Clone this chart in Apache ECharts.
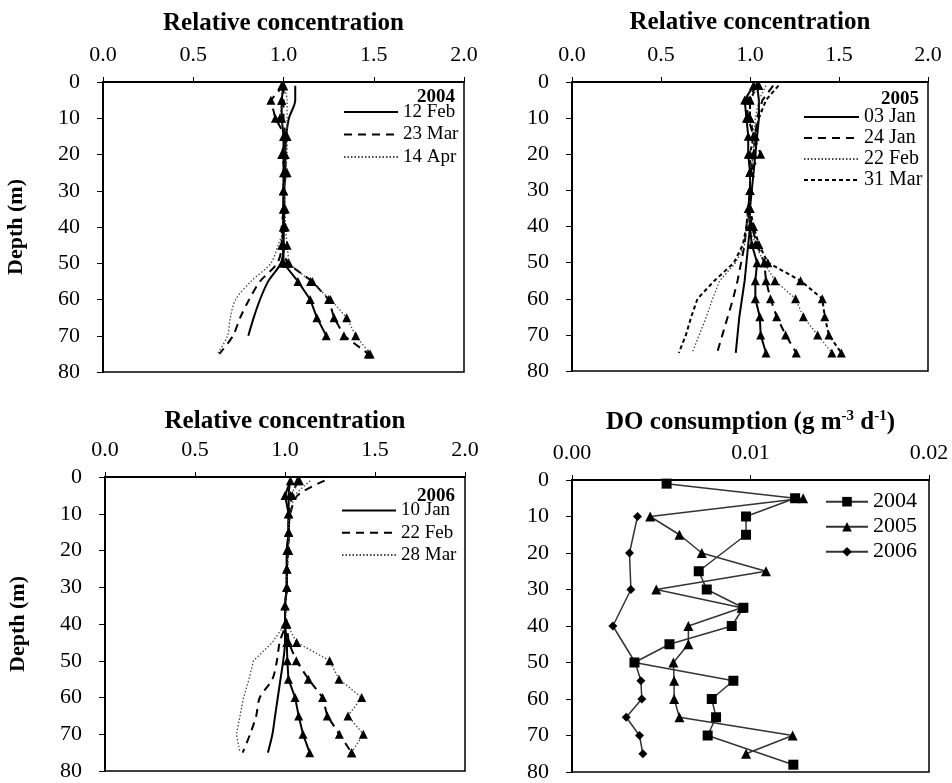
<!DOCTYPE html>
<html>
<head>
<meta charset="utf-8">
<script src="https://cdn.jsdelivr.net/npm/echarts@6/dist/echarts.min.js"></script>
<style>
html, body { margin: 0; padding: 0; background: #fff; }
#main { width: 952px; height: 783px; }
</style>
</head>
<body>
<div id="main"></div>
<script>
// depth of each sample (m)
var depths = [1, 5, 10, 15, 20, 25, 30, 35, 40, 45, 50, 55, 60, 65, 70, 75];

// 2004 relative concentration (plain line / line with triangles)
var feb12_2004 = [1.065, 1.065, 1.03, 1.015, 1.01, 1.01, 1.005, 1.005, 1.0, 1.0, 0.985, 0.915, 0.87, 0.835, 0.805];
var feb12_2004T = [1.0, 0.99, 0.99, 1.0, 1.0, 1.0, 1.0, 1.0, 1.0, 1.0, 1.0, 1.08, 1.148, 1.185, 1.237];
var mar23_2004 = [1.0, 1.0, 1.0, 1.01, 1.01, 1.0, 1.0, 1.0, 0.99, 0.99, 0.965, 0.87, 0.81, 0.76, 0.72, 0.645];
var mar23_2004T = [1.0, 0.93, 0.955, 1.01, 0.99, 1.01, 1.0, 1.0, 1.0, 0.99, 1.02, 1.16, 1.25, 1.28, 1.335, 1.47];
var apr14_2004 = [1.0, 1.02, 1.02, 1.02, 1.02, 1.01, 1.0, 1.0, 1.0, 0.97, 0.93, 0.82, 0.735, 0.705, 0.69, 0.635];
var apr14_2004T = [0.99, 0.99, 0.98, 1.02, 1.01, 1.02, 1.0, 1.01, 1.01, 1.02, 1.03, 1.15, 1.26, 1.35, 1.40, 1.48];

// 2005
var jan03_2005 = [1.04, 1.05, 1.05, 1.04, 1.03, 1.02, 1.01, 1.0, 1.0, 0.99, 0.98, 0.97, 0.955, 0.94, 0.93, 0.92];
var jan03_2005T = [1.02, 0.97, 0.98, 0.99, 0.99, 1.0, 1.0, 0.99, 1.0, 1.01, 1.04, 1.03, 1.03, 1.055, 1.06, 1.09];
var jan24_2005 = [1.13, 1.07, 1.04, 1.03, 1.03, 1.0, 1.0, 0.99, 0.98, 0.97, 0.95, 0.93, 0.905, 0.875, 0.845, 0.815];
var jan24_2005T = [1.04, 0.98, 0.99, 1.02, 1.06, 1.0, 1.0, 1.0, 1.01, 1.04, 1.08, 1.09, 1.115, 1.15, 1.20, 1.26];
var feb22_2005 = [1.09, 1.05, 1.03, 1.02, 1.02, 1.0, 1.0, 0.99, 0.98, 0.97, 0.92, 0.83, 0.79, 0.755, 0.715, 0.675];
var feb22_2005T = [1.05, 1.0, 1.0, 1.03, 1.02, 1.0, 1.0, 1.0, 1.0, 1.03, 1.08, 1.14, 1.256, 1.30, 1.38, 1.46];
var mar31_2005 = [1.16, 1.09, 1.05, 1.03, 1.02, 1.0, 1.0, 0.99, 0.98, 0.96, 0.91, 0.80, 0.705, 0.67, 0.64, 0.60];
var mar31_2005T = [1.04, 1.0, 1.0, 1.02, 1.0, 1.0, 1.0, 1.0, 1.02, 1.05, 1.10, 1.284, 1.406, 1.42, 1.443, 1.513];

// 2006
var jan10_2006 = [1.03, 1.02, 1.02, 1.02, 1.01, 1.01, 1.01, 1.0, 1.0, 1.0, 0.99, 0.975, 0.96, 0.945, 0.93, 0.905];
var jan10_2006T = [1.03, 1.0, 1.02, 1.02, 1.01, 1.01, 1.01, 1.0, 1.0, 1.01, 1.013, 1.019, 1.056, 1.076, 1.10, 1.137];
var feb22_2006 = [1.22, 1.07, 1.03, 1.02, 1.02, 1.01, 1.01, 1.0, 1.0, 0.97, 0.955, 0.93, 0.86, 0.84, 0.806, 0.765];
var feb22_2006T = [1.07, 1.04, 1.02, 1.02, 1.02, 1.01, 1.01, 1.0, 1.01, 1.02, 1.063, 1.13, 1.209, 1.235, 1.302, 1.37];
var mar28_2006 = [1.14, 1.05, 1.03, 1.02, 1.02, 1.01, 1.01, 1.0, 1.0, 0.93, 0.825, 0.80, 0.77, 0.75, 0.73, 0.75];
var mar28_2006T = [1.08, 1.03, 1.02, 1.02, 1.02, 1.01, 1.01, 1.0, 1.01, 1.065, 1.248, 1.30, 1.426, 1.35, 1.435, 1.37];

// DO consumption (g m-3 d-1)
var doDepth2004 = [1, 5, 10, 15, 25, 30, 35, 40, 45, 50, 55, 60, 65, 70, 78];
var do2004 = [0.0053, 0.0125, 0.00975, 0.00975, 0.0071, 0.00755, 0.0096, 0.00895, 0.00546, 0.0035, 0.00904, 0.00783, 0.00807, 0.0076, 0.0124];
var doDepth2005 = [5, 10, 15, 20, 25, 30, 35, 40, 45, 50, 55, 60, 65, 70, 75];
var do2005 = [0.01295, 0.00438, 0.00602, 0.00727, 0.01087, 0.00472, 0.0095, 0.00652, 0.00652, 0.00568, 0.00572, 0.00572, 0.00602, 0.01236, 0.00975];
var doDepth2006 = [10, 20, 30, 40, 50, 55, 60, 65, 70, 75];
var do2006 = [0.00367, 0.00322, 0.0033, 0.00229, 0.00354, 0.00386, 0.00391, 0.00304, 0.00378, 0.00397];

var FONT = 'Liberation Serif';
var SOLID = { type: 'solid', width: 2, color: '#000' };
var DASH = { type: [8, 6], width: 2, color: '#000' };
var DOT = { type: [1.5, 2], width: 1.3, color: '#444' };
var SHORTDASH = { type: [4, 3], width: 2, color: '#000' };

function pairs(vals, ds) {
    return vals.map(function (v, i) { return [v, ds[i]]; });
}

function profile(name, idx, vals, style, tri, smooth) {
    return {
        name: name,
        type: 'line',
        xAxisIndex: idx,
        yAxisIndex: idx,
        data: pairs(vals, depths),
        symbol: tri ? 'triangle' : 'none',
        symbolSize: 9,
        showSymbol: tri,
        smooth: smooth ? 0.3 : false,
        itemStyle: { color: '#000' },
        lineStyle: style,
        animation: false,
        z: tri ? 3 : 2
    };
}

function doSeries(name, vals, ds, symbol, size) {
    return {
        name: name,
        type: 'line',
        xAxisIndex: 3,
        yAxisIndex: 3,
        data: pairs(vals, ds),
        symbol: symbol,
        symbolSize: size,
        itemStyle: { color: '#000' },
        lineStyle: { color: '#333', width: 1.5 },
        animation: false
    };
}

var grids = [
    { left: 103, top: 82, width: 361, height: 290 },
    { left: 572, top: 82, width: 356, height: 289 },
    { left: 105, top: 477, width: 360, height: 294 },
    { left: 572, top: 480, width: 357, height: 292 }
];
grids.forEach(function (g) {
    g.show = true;
    g.borderColor = '#000';
    g.borderWidth = 1.5;
    g.backgroundColor = 'transparent';
});

function xAxisFor(idx, max, interval, digits, name, gap) {
    return {
        type: 'value',
        gridIndex: idx,
        position: 'top',
        min: 0, max: max, interval: interval,
        name: name,
        nameLocation: 'middle',
        nameGap: gap,
        nameTextStyle: {
            fontFamily: FONT, fontSize: 25, fontWeight: 'bold', color: '#000',
            rich: {
                b: { fontFamily: FONT, fontSize: 25, fontWeight: 'bold', color: '#000' },
                s: { fontFamily: FONT, fontSize: 15, fontWeight: 'bold', color: '#000', padding: [0, 0, 12, 0] }
            }
        },
        axisLine: { lineStyle: { color: '#000', width: 2 } },
        axisTick: { show: true, inside: false, length: 5, lineStyle: { color: '#000' } },
        axisLabel: {
            fontFamily: FONT, fontSize: 22, color: '#000', margin: 16,
            formatter: function (v) { return v.toFixed(digits); }
        },
        splitLine: { show: false }
    };
}

function yAxisFor(idx, name) {
    return {
        type: 'value',
        gridIndex: idx,
        inverse: true,
        min: 0, max: 80, interval: 10,
        name: name,
        nameLocation: 'middle',
        nameGap: 76,
        nameRotate: 90,
        nameTextStyle: { fontFamily: FONT, fontSize: 22, fontWeight: 'bold', color: '#000' },
        axisLine: { lineStyle: { color: '#000', width: 2 } },
        axisTick: { show: true, inside: false, length: 6, lineStyle: { color: '#000' } },
        axisLabel: { fontFamily: FONT, fontSize: 22, color: '#000', margin: 23 },
        splitLine: { show: false }
    };
}

function legendFor(names, left, top, w, fs, gap, hideSymbol) {
    var lg = {
        data: names,
        orient: 'vertical',
        left: left, top: top,
        padding: 0,
        itemWidth: w,
        itemHeight: 12,
        itemGap: gap,
        selectedMode: false,
        formatter: function (n) { return n.split(' ').slice(0, 2).join(' '); },
        textStyle: { fontFamily: FONT, fontSize: fs, lineHeight: fs, color: '#000' }
    };
    if (hideSymbol) {
        lg.itemStyle = { color: 'rgba(0,0,0,0)', borderWidth: 0, opacity: 0 };
    }
    return lg;
}

function yearLabel(text, x, y) {
    return {
        type: 'text', x: x, y: y,
        style: {
            text: text, font: 'bold 19px "' + FONT + '"', fill: '#000',
            textAlign: 'center', textVerticalAlign: 'middle'
        }
    };
}

var option = {
    backgroundColor: '#fff',
    animation: false,
    grid: grids,
    xAxis: [
        xAxisFor(0, 2, 0.5, 1, 'Relative concentration', 46),
        xAxisFor(1, 2, 0.5, 1, 'Relative concentration', 47),
        xAxisFor(2, 2, 0.5, 1, 'Relative concentration', 43),
        xAxisFor(3, 0.02, 0.01, 2, '{b|DO consumption (g m}{s|-3}{b| d}{s|-1}{b|)}', 44)
    ],
    yAxis: [
        yAxisFor(0, 'Depth (m)'),
        yAxisFor(1, ''),
        yAxisFor(2, 'Depth (m)'),
        yAxisFor(3, '')
    ],
    legend: [
        legendFor(['12 Feb 2004', '23 Mar 2004', '14 Apr 2004'], 343, 102.5, 54, 19, 3.5, true),
        legendFor(['03 Jan 2005', '24 Jan 2005', '22 Feb 2005', '31 Mar 2005'], 803, 107, 55, 20, 1, true),
        legendFor(['10 Jan 2006', '22 Feb 2006', '28 Mar 2006'], 341, 501, 54, 19, 3.2, true),
        legendFor(['2004', '2005', '2006'], 825, 490.7, 42, 22, 3, false)
    ],
    graphic: [
        yearLabel('2004', 436, 97),
        yearLabel('2005', 900, 99),
        yearLabel('2006', 436, 496)
    ],
    series: [
        profile('12 Feb 2004', 0, feb12_2004, SOLID, false, true),
        profile('12 Feb 2004 t', 0, feb12_2004T, SOLID, true, false),
        profile('23 Mar 2004', 0, mar23_2004, DASH, false, true),
        profile('23 Mar 2004 t', 0, mar23_2004T, DASH, true, false),
        profile('14 Apr 2004', 0, apr14_2004, DOT, false, true),
        profile('14 Apr 2004 t', 0, apr14_2004T, DOT, true, false),

        profile('03 Jan 2005', 1, jan03_2005, SOLID, false, false),
        profile('03 Jan 2005 t', 1, jan03_2005T, SOLID, true, false),
        profile('24 Jan 2005', 1, jan24_2005, DASH, false, false),
        profile('24 Jan 2005 t', 1, jan24_2005T, DASH, true, false),
        profile('22 Feb 2005', 1, feb22_2005, DOT, false, false),
        profile('22 Feb 2005 t', 1, feb22_2005T, DOT, true, false),
        profile('31 Mar 2005', 1, mar31_2005, SHORTDASH, false, false),
        profile('31 Mar 2005 t', 1, mar31_2005T, SHORTDASH, true, false),

        profile('10 Jan 2006', 2, jan10_2006, SOLID, false, true),
        profile('10 Jan 2006 t', 2, jan10_2006T, SOLID, true, false),
        profile('22 Feb 2006', 2, feb22_2006, DASH, false, true),
        profile('22 Feb 2006 t', 2, feb22_2006T, DASH, true, false),
        profile('28 Mar 2006', 2, mar28_2006, DOT, false, false),
        profile('28 Mar 2006 t', 2, mar28_2006T, DOT, true, false),

        doSeries('2004', do2004, doDepth2004, 'rect', 10),
        doSeries('2005', do2005, doDepth2005, 'triangle', 10),
        doSeries('2006', do2006, doDepth2006, 'diamond', 9)
    ]
};

var chart = echarts.init(document.getElementById('main'));
chart.setOption(option);
</script>
</body>
</html>
